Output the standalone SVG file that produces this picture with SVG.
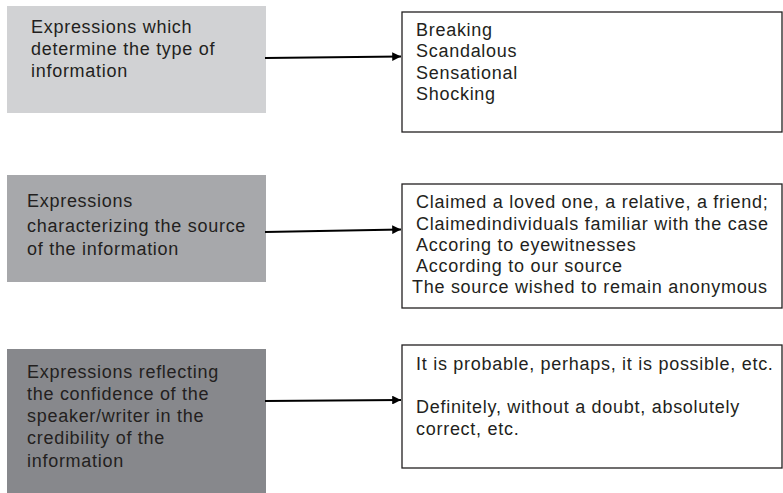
<svg xmlns="http://www.w3.org/2000/svg" width="783" height="493" viewBox="0 0 783 493">
<style>
text{font-family:"Liberation Sans",Arial,sans-serif;font-size:18px;letter-spacing:0.72px;fill:#231f20}
.out{fill:#fff;stroke:#231f20;stroke-width:1.3}
.conn{stroke:#000;stroke-width:2.2;fill:none;marker-end:url(#ah)}
</style>
<defs>
<marker id="ah" viewBox="0 0 10 10" refX="10" refY="5" markerWidth="4" markerHeight="4" orient="auto" markerUnits="strokeWidth">
<path d="M0,0 L10,5 L0,10 z" fill="#000"/>
</marker>
</defs>
<rect width="783" height="493" fill="#fff"/>
<g id="n1"><rect x="7" y="6" width="259" height="107" fill="#d1d2d4"/>
<text x="31" y="33">Expressions which</text><text x="31" y="55">determine the type of</text><text x="31" y="77">information</text></g>
<g id="n2"><rect x="7" y="175" width="259" height="107" fill="#a7a8ab"/>
<text x="27" y="207">Expressions</text><text x="27" y="232">characterizing the source</text><text x="27" y="255">of the information</text></g>
<g id="n3"><rect x="7" y="349" width="259" height="144" fill="#87888c"/>
<text x="27" y="378">Expressions reflecting</text><text x="27" y="400">the confidence of the</text><text x="27" y="422">speaker/writer in the</text><text x="27" y="444">credibility of the</text><text x="27" y="467">information</text></g>
<g id="r1"><rect class="out" x="402" y="12" width="380" height="120"/>
<text x="416" y="36">Breaking</text><text x="416" y="57">Scandalous</text><text x="416" y="79">Sensational</text><text x="416" y="100">Shocking</text></g>
<g id="r2"><rect class="out" x="402" y="184" width="380" height="124"/>
<text x="416" y="208">Claimed a loved one, a relative, a friend;</text><text x="416" y="230">Claimedindividuals familiar with the case</text><text x="416" y="251">Accoring to eyewitnesses</text><text x="416" y="272">According to our source</text><text x="412" y="293">The source wished to remain anonymous</text></g>
<g id="r3"><rect class="out" x="402" y="345" width="380" height="123"/>
<text x="416" y="370">It is probable, perhaps, it is possible, etc.</text><text x="416" y="413">Definitely, without a doubt, absolutely</text><text x="416" y="435">correct, etc.</text></g>
<g id="connectors">
<path class="conn" d="M265,58 L401,56.5"/>
<path class="conn" d="M265,232 L401,229.5"/>
<path class="conn" d="M265,401 L401,400"/>
</g>
</svg>
